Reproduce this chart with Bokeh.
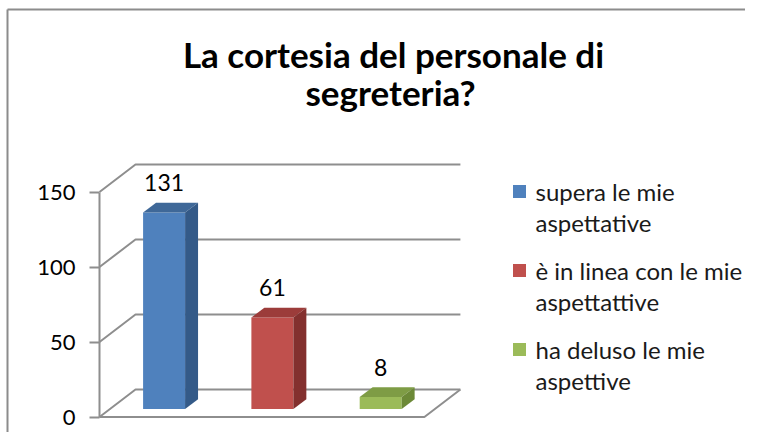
import textwrap
from bokeh.plotting import figure
from bokeh.models import Range1d, FixedTicker
from bokeh.core.properties import value
from bokeh.embed import file_html
from bokeh.resources import INLINE

# ---------------- data ----------------
title_lines = ["La cortesia del personale di", "segreteria?"]
categories = ["supera le mie aspettative",
              "è in linea con le mie aspettattive",
              "ha deluso le mie aspettive"]
counts = [131, 61, 8]
y_ticks = [0, 50, 100, 150]
y_tick_labels = ["0", "50", "100", "150"]
front_colors = ["#4F81BD", "#C0504D", "#9BBB59"]
top_colors = ["#3F6898", "#9C3C3A", "#7E9C45"]
side_colors = ["#345A88", "#83302E", "#6C8937"]

# ---------------- layout / geometry ----------------
W, H = 745, 432
AXIS_X = 99             # page x of the front-left corner (value axis)
CAT_PX = 108.3          # pixels per category
VAL_PX = 1.5            # pixels per unit of value
ZERO_Y = 416.5          # page y of value 0 (front plane)
BASE_K = 0.42           # baseline correction (fraction of font size)

def fx(px):
    return (px - AXIS_X) / CAT_PX

def fy(py):
    return (ZERO_Y - py) / VAL_PX

def fyt(py, size):
    return fy(py - BASE_K * size)

DX = 36 / CAT_PX        # depth offset (x, data units)
DY = 27.5 / VAL_PX      # depth offset (y, data units)
F1, F2 = 0.29, 0.65     # bar front/back depth fractions
BAR_W = 42 / CAT_PX
n = len(categories)
GRID = "#8E8E8E"
FONT = "Lato"

p = figure(width=W, height=H, output_backend="svg", toolbar_location=None,
           x_range=Range1d(fx(0), fx(W)), y_range=Range1d(fy(H), fy(0)),
           x_axis_location=None, min_border_left=0, min_border_right=0,
           min_border_top=0, min_border_bottom=0)
p.xgrid.visible = False
p.ygrid.visible = False
p.outline_line_color = None
p.background_fill_color = "white"
p.border_fill_color = "white"

# outer chart frame (top and left edges visible)
p.multi_line([[fx(7), fx(7)], [fx(7), fx(W + 20)]],
             [[fy(9), fy(H + 20)], [fy(9), fy(9)]],
             line_color="#8C8C8C", line_width=2)

# y axis, drawn at the front-left corner of the 3D box
ax = p.yaxis[0]
ax.fixed_location = 0
ax.ticker = FixedTicker(ticks=y_ticks)
ax.major_label_overrides = {t: l for t, l in zip(y_ticks, y_tick_labels)}
ax.bounds = (y_ticks[0], y_ticks[-1])
ax.axis_line_color = GRID
ax.axis_line_width = 2
ax.major_tick_line_color = GRID
ax.major_tick_line_width = 2
ax.major_tick_out = 10
ax.major_tick_in = 0
ax.minor_tick_out = 0
ax.minor_tick_in = 0
ax.major_label_standoff = 14
ax.major_label_text_font = FONT
ax.major_label_text_font_size = "22px"
ax.major_label_text_color = "#000000"

# back wall / floor lines
xs, ys = [], []
for t in y_ticks:
    xs.append([0, DX, n + DX])
    ys.append([t, t + DY, t + DY])
xs.append([0, n, n + DX])
ys.append([0, 0, DY])
p.multi_line(xs, ys, line_color=GRID, line_width=2)

# bars
centers = [i + 0.5 for i in range(n)]
lefts = [c - BAR_W / 2 + F1 * DX for c in centers]
rights = [c + BAR_W / 2 + F1 * DX for c in centers]
p.quad(left=lefts, right=rights, bottom=[F1 * DY] * n,
       top=[v + F1 * DY for v in counts], fill_color=front_colors, line_color=None)

top_xs, top_ys, side_xs, side_ys = [], [], [], []
d = (F2 - F1)
for l, r, v in zip(lefts, rights, counts):
    yt = v + F1 * DY
    top_xs.append([l, r, r + d * DX, l + d * DX])
    top_ys.append([yt, yt, yt + d * DY, yt + d * DY])
    side_xs.append([r, r, r + d * DX, r + d * DX])
    side_ys.append([F1 * DY, yt, yt + d * DY, F1 * DY + d * DY])
p.patches(top_xs, top_ys, fill_color=top_colors, line_color=None)
p.patches(side_xs, side_ys, fill_color=side_colors, line_color=None)

# value labels
VAL_FS = 23
p.text(x=[c + F1 * DX for c in centers],
       y=[v + F1 * DY + (20 + BASE_K * VAL_FS) / VAL_PX for v in counts],
       text=[str(v) for v in counts], text_align="center", text_baseline="alphabetic",
       text_font=value(FONT), text_font_size=f"{VAL_FS}px", text_color="#000000")

# title
TITLE_FS = 35
p.text(x=[fx(393), fx(390)], y=[fyt(68, TITLE_FS), fyt(106, TITLE_FS)], text=title_lines,
       text_align="center", text_baseline="alphabetic", text_font=value(FONT),
       text_font_size=f"{TITLE_FS}px", text_font_style="bold", text_color="#000000")

# legend
LEG_FS = 24
LEG_PITCH = 79
LINE_H = 31
p.rect(x=[fx(519)] * n, y=[fy(191 + LEG_PITCH * i) for i in range(n)],
       width=13, height=13, width_units="screen", height_units="screen",
       fill_color=front_colors, line_color=None)
lx, ly, lt = [], [], []
for i, cat in enumerate(categories):
    for j, line in enumerate(textwrap.wrap(cat, 21)):
        lx.append(fx(535))
        ly.append(fyt(201 + LEG_PITCH * i + LINE_H * j, LEG_FS))
        lt.append(line)
p.text(x=lx, y=ly, text=lt, text_align="left", text_baseline="alphabetic",
       text_font=value(FONT), text_font_size=f"{LEG_FS}px", text_color="#1A1A1A")

open("out.html", "w").write(file_html(p, INLINE))
